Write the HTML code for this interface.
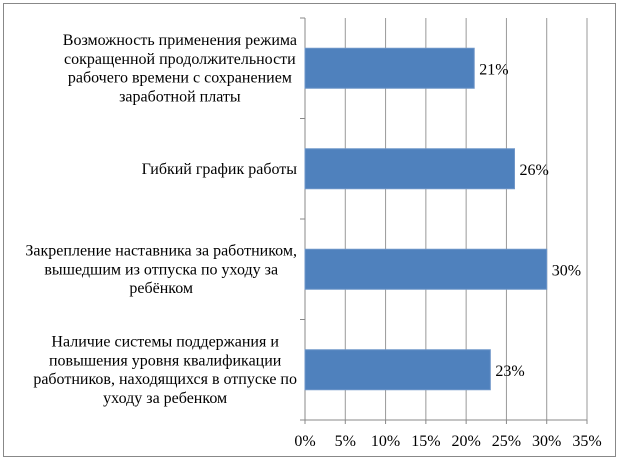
<!DOCTYPE html>
<html><head><meta charset="utf-8"><style>
body{margin:0;background:#fff;}
svg{display:block;font-family:"Liberation Serif","Noto Serif CJK SC",serif;}
</style></head><body>
<svg width="624" height="461">
<rect x="3.5" y="3.5" width="612" height="453" fill="#fff" stroke="#888"/>
<g id="g"></g>
</svg>
<script>
const categories=[
["Возможность применения режима","сокращенной продолжительности","рабочего времени с сохранением","заработной платы"],
["Гибкий график работы"],
["Закрепление наставника за работником,","вышедшим из отпуска по уходу за","ребёнком"],
["Наличие системы поддержания и","повышения уровня квалификации","работников, находящихся в отпуске по","уходу за ребенком"]];
const values=[21,26,30,23];
const valueLabels=["21%","26%","30%","23%"];
const ticks=[0,5,10,15,20,25,30,35];
const tickLabels=["0%","5%","10%","15%","20%","25%","30%","35%"];
const x0=305,x1=587,yTop=18,yBot=420,maxV=35;
const xs=v=>x0+(x1-x0)*v/maxV;
const band=(yBot-yTop)/categories.length;
const g=document.getElementById('g');
const NS='http://www.w3.org/2000/svg';
function mk(t,a,txt){const e=document.createElementNS(NS,t);for(const k in a)e.setAttribute(k,a[k]);if(txt!=null)e.textContent=txt;g.appendChild(e);return e;}
ticks.forEach((t,i)=>{
 if(i>0){const l=mk('line',{x1:xs(t),x2:xs(t),y1:yTop,y2:yBot,stroke:'#999','stroke-width':1});
 
 }
 const tk=mk('line',{x1:xs(t),x2:xs(t),y1:yBot,y2:yBot+4,stroke:'#888'});
 
 
 const tx=mk('text',{x:xs(t),y:yBot+26,'text-anchor':'middle','font-size':16,fill:'#000'},tickLabels[i]);
 
 
});
const ax=mk('line',{x1:x0,x2:x0,y1:yTop,y2:yBot,stroke:'#888'});


const bx=mk('line',{x1:x0-4,x2:x1,y1:yBot,y2:yBot,stroke:'#888'});


for(let i=0;i<=categories.length;i++){
 const l=mk('line',{x1:x0-5,x2:x0,y1:yTop+band*i,y2:yTop+band*i,stroke:'#888'});
 
 
}
categories.forEach((c,i)=>{
 const cy=yTop+band*(i+0.5);
 const bh=40;
 const r=mk('rect',{x:x0,y:cy-bh/2,width:xs(values[i])-x0,height:bh,fill:'#4f81bd',stroke:'#6d95c8','stroke-width':1});
 
 
 const v=mk('text',{x:xs(values[i])+5,y:cy+6,'font-size':16,fill:'#000'},valueLabels[i]);
 
 
 const lh=18.7,start=cy-(c.length-1)*lh/2+5;
 const els=c.map((line,j)=>{
  const t=mk('text',{x:0,y:start+j*lh,'text-anchor':'middle','font-size':16,fill:'#000'},line);
  
  
  return t;
 });
 let w=0;els.forEach(e=>{w=Math.max(w,e.getComputedTextLength());});
 els.forEach(e=>e.setAttribute('x',297-w/2));
});
</script>
</body></html>
